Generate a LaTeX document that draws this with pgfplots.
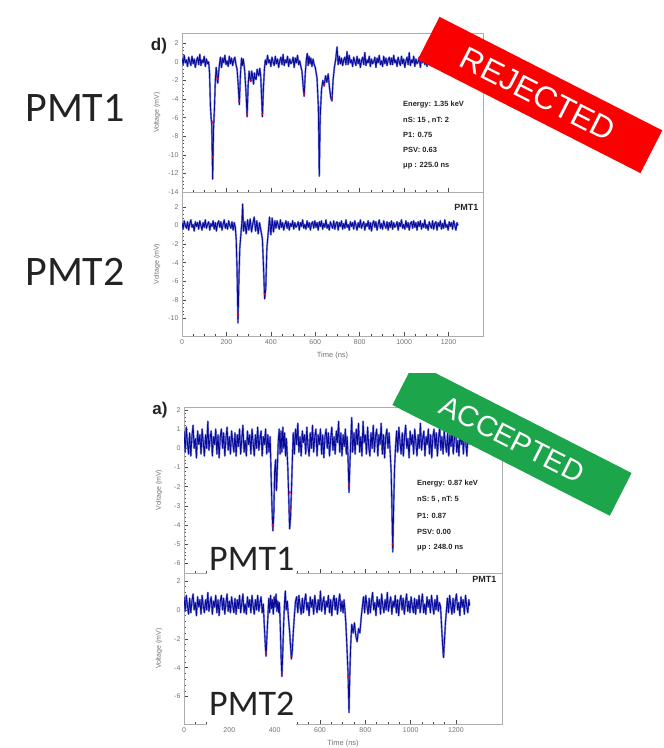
\documentclass[border=0pt]{standalone}
\usepackage{pgfplots}
\pgfplotsset{compat=1.18}
\usepackage{pgfplotstable}
\usepackage{fontspec}
\setmainfont{Liberation Sans}
\newfontfamily\calfont{Carlito}

\definecolor{trace}{RGB}{10,10,150}
\definecolor{haloblue}{RGB}{120,130,220}
\definecolor{rejred}{RGB}{250,0,0}
\definecolor{accgreen}{RGB}{28,165,75}
\definecolor{ticktext}{RGB}{115,115,115}
\definecolor{darktxt}{RGB}{35,35,35}

% rejected event, PMT1
\pgfplotstableread[row sep=\\]{x y\\
0 0.4\\ 5 -0.3\\ 10 0.7\\ 15 -0.1\\ 20 0.2\\ 25 -0.5\\ 30 0.5\\ 35 0.0\\ 40 -0.4\\ 45 0.6\\ 50 -0.2\\ 55 0.3\\ 60 -0.6\\ 65 0.1\\ 70 0.5\\ 75 -0.3\\ 80 0.8\\ 85 -0.4\\ 90 0.2\\ 95 -0.1\\ 100 0.6\\ 105 -0.5\\ 110 0.3\\ 115 -0.2\\ 120 0.0\\
124 -1.2\\ 128 -4.8\\ 131 -6.0\\ 134 -6.8\\ 138 -12.6\\ 142 -7.2\\ 146 -5.0\\ 150 -2.0\\ 154 -0.6\\ 158 -1.6\\ 161 -2.3\\ 165 -1.2\\ 169 -0.2\\
173 0.5\\ 178 -0.6\\ 183 0.4\\ 188 -0.1\\ 193 0.7\\ 198 -0.3\\ 203 0.1\\ 208 -0.5\\ 213 0.6\\ 218 -0.2\\ 223 0.4\\ 228 -0.4\\ 233 0.2\\ 238 0.5\\ 243 -0.3\\
248 -0.8\\ 253 -2.5\\ 258 -4.6\\ 263 -1.4\\ 268 0.4\\ 272 -0.4\\ 276 0.3\\ 282 -0.9\\ 288 -3.2\\ 293 -5.9\\ 298 -2.4\\ 302 -1.0\\ 306 -1.8\\ 310 -2.1\\ 314 -1.0\\ 318 -1.6\\ 322 -2.4\\ 326 -1.2\\ 330 -1.8\\ 334 -1.9\\ 338 -0.8\\ 342 -1.3\\ 346 -1.5\\ 350 -0.7\\ 354 -1.4\\ 357 -3.0\\ 362 -5.9\\ 367 -2.6\\ 371 -0.8\\ 375 0.2\\
380 -0.3\\ 385 0.7\\ 390 -0.1\\ 395 0.2\\ 400 -0.5\\ 405 0.5\\ 410 0.0\\ 415 -0.4\\ 420 0.6\\ 425 -0.2\\ 430 0.3\\ 435 -0.6\\ 440 0.1\\ 445 0.5\\ 450 -0.3\\ 455 0.8\\ 460 -0.4\\ 465 0.2\\ 470 -0.1\\ 475 0.6\\ 480 -0.5\\ 485 0.3\\ 490 -0.2\\ 495 0.0\\ 500 0.5\\ 505 -0.6\\ 510 0.4\\ 515 -0.1\\ 520 0.7\\ 525 -0.3\\ 530 0.1\\ 535 -0.5\\
540 -1.0\\ 546 -2.8\\ 550 -3.7\\ 555 -1.2\\ 560 0.3\\ 564 0.9\\ 568 -0.4\\ 572 0.6\\ 576 -0.2\\ 580 0.4\\ 585 -0.5\\ 590 0.3\\ 595 -0.3\\ 600 -0.6\\
608 -1.8\\ 614 -5.0\\ 618 -12.3\\ 622 -6.0\\ 628 -3.0\\ 634 -2.0\\ 640 -2.6\\ 646 -1.5\\ 652 -2.2\\ 658 -1.3\\ 664 -2.8\\ 670 -3.9\\ 675 -4.2\\ 680 -2.0\\ 686 -0.6\\ 692 0.3\\ 698 1.6\\ 703 -0.3\\
708 0.6\\ 713 -0.2\\ 718 0.4\\ 723 -0.4\\ 728 0.2\\ 733 0.5\\ 738 -0.3\\ 743 1.1\\ 748 -0.3\\ 753 0.7\\ 758 -0.1\\ 763 0.2\\ 768 -0.5\\ 773 0.5\\ 778 0.0\\ 783 -0.4\\ 788 0.6\\ 793 -0.2\\ 798 0.3\\ 803 -0.6\\ 808 0.1\\ 813 0.5\\ 818 -0.3\\ 823 1.0\\ 828 -0.4\\ 833 0.2\\ 838 -0.1\\ 843 0.6\\ 848 -0.5\\ 853 0.3\\ 858 -0.2\\ 863 0.0\\ 868 0.5\\ 873 -0.6\\ 878 0.4\\ 883 -0.1\\ 888 0.7\\ 893 -0.3\\ 898 0.1\\ 903 -0.5\\
908 0.6\\ 913 -0.2\\ 918 0.4\\ 923 -0.4\\ 928 0.2\\ 933 0.5\\ 938 -0.3\\ 943 0.4\\ 948 -0.3\\ 953 0.7\\ 958 -0.1\\ 963 0.2\\ 968 -0.5\\ 973 0.5\\ 978 0.0\\ 983 -0.4\\ 988 0.6\\ 993 -0.2\\ 998 0.3\\ 1003 -0.6\\ 1008 0.1\\ 1013 0.5\\ 1018 -0.3\\ 1023 1.0\\ 1028 -0.4\\ 1033 0.2\\ 1038 -0.1\\ 1043 0.6\\ 1048 -0.5\\ 1053 0.3\\ 1058 -0.2\\ 1063 0.0\\ 1068 0.5\\ 1073 -0.6\\ 1078 0.4\\ 1083 -0.1\\ 1088 0.7\\ 1093 -0.3\\ 1098 0.1\\ 1103 -0.5\\
1108 0.6\\ 1113 -0.2\\ 1118 0.4\\ 1123 -0.4\\ 1128 0.2\\ 1133 0.5\\ 1138 -0.3\\ 1143 0.4\\ 1148 -0.3\\ 1153 0.7\\ 1158 -0.1\\ 1163 0.2\\ 1168 -0.5\\ 1173 0.5\\ 1178 0.0\\ 1183 -0.4\\ 1188 0.6\\ 1193 -0.2\\ 1198 0.3\\ 1203 -0.6\\ 1208 0.1\\ 1213 0.5\\ 1218 -0.3\\ 1223 0.8\\ 1228 -0.4\\ 1233 0.2\\ 1238 -0.1\\ 1243 0.6\\ 1248 -0.5\\ 1252 0.1\\
}\rejA

% rejected event, PMT2
\pgfplotstableread[row sep=\\]{x y\\
0 0.3\\ 5 -0.4\\ 10 0.5\\ 15 0.0\\ 20 -0.3\\ 25 0.4\\ 30 -0.5\\ 35 0.2\\ 40 0.6\\ 45 -0.2\\ 50 0.1\\ 55 -0.6\\ 60 0.4\\ 65 -0.1\\ 70 0.3\\ 75 -0.4\\ 80 0.5\\ 85 0.0\\ 90 -0.5\\ 95 0.3\\ 100 -0.2\\ 105 0.6\\ 110 -0.3\\ 115 0.1\\ 120 0.4\\
125 -0.5\\ 130 0.2\\ 135 -0.1\\ 140 0.5\\ 145 -0.4\\ 150 0.3\\ 155 -0.6\\ 160 0.2\\ 165 0.5\\ 170 -0.2\\ 175 0.4\\ 180 -0.5\\ 185 0.1\\ 190 0.6\\ 195 -0.3\\ 200 0.2\\ 205 -0.4\\ 210 0.5\\ 215 0.0\\ 220 -0.3\\ 225 0.4\\ 230 -0.5\\ 235 0.3\\ 240 -0.2\\
244 -1.5\\ 248 -5.0\\ 252 -10.5\\ 256 -6.0\\ 260 -2.5\\ 265 -1.0\\ 270 0.5\\ 273 2.3\\ 277 -0.6\\ 283 0.4\\ 289 -0.9\\ 295 0.6\\ 301 -0.5\\ 307 0.7\\ 313 -0.7\\ 319 0.2\\ 325 0.9\\ 331 -0.6\\ 337 0.5\\ 343 -0.9\\ 349 0.3\\ 355 -0.5\\
362 -1.5\\ 367 -4.5\\ 372 -7.9\\ 377 -6.8\\ 382 -2.5\\ 388 -0.8\\ 394 0.9\\ 400 -1.0\\ 406 0.8\\ 412 -0.7\\ 418 0.5\\
423 -0.3\\ 428 0.5\\ 433 0.0\\ 438 -0.4\\ 443 0.6\\ 448 -0.2\\ 453 0.3\\ 458 -0.5\\ 463 0.1\\ 468 0.5\\ 473 -0.3\\ 478 0.4\\ 483 -0.5\\ 488 0.2\\ 493 -0.1\\ 498 0.5\\ 503 -0.4\\ 508 0.3\\ 513 -0.2\\ 518 0.0\\ 523 0.4\\ 528 -0.5\\ 533 0.3\\ 538 -0.1\\ 543 0.6\\ 548 -0.3\\ 553 0.1\\ 558 -0.4\\ 563 0.5\\ 568 -0.2\\ 573 0.3\\ 578 -0.5\\ 583 0.2\\ 588 0.4\\ 593 -0.3\\ 598 0.5\\
603 -0.2\\ 608 0.3\\ 613 -0.5\\ 618 0.4\\ 623 -0.1\\ 628 0.5\\ 633 -0.4\\ 638 0.2\\ 643 -0.2\\ 648 0.6\\ 653 -0.3\\ 658 0.1\\ 663 -0.5\\ 668 0.4\\ 673 0.0\\ 678 -0.3\\ 683 0.5\\ 688 -0.4\\ 693 0.2\\ 698 0.4\\ 703 -0.5\\ 708 0.3\\ 713 -0.1\\ 718 0.5\\ 723 -0.4\\ 728 0.2\\ 733 -0.3\\ 738 0.6\\ 743 -0.2\\ 748 0.1\\ 753 -0.5\\ 758 0.4\\ 763 -0.1\\ 768 0.3\\ 773 -0.4\\ 778 0.5\\ 783 0.0\\ 788 -0.5\\ 793 0.3\\ 798 -0.2\\
803 0.6\\ 808 -0.3\\ 813 0.1\\ 818 0.4\\ 823 -0.5\\ 828 0.2\\ 833 -0.1\\ 838 0.5\\ 843 -0.4\\ 848 0.3\\ 853 -0.6\\ 858 0.2\\ 863 0.5\\ 868 -0.2\\ 873 0.4\\ 878 -0.5\\ 883 0.1\\ 888 0.6\\ 893 -0.3\\ 898 0.2\\ 903 -0.4\\ 908 0.5\\ 913 0.0\\ 918 -0.3\\ 923 0.4\\ 928 -0.5\\ 933 0.3\\ 938 -0.2\\ 943 0.5\\ 948 -0.4\\ 953 0.3\\ 958 -0.2\\ 963 0.0\\ 968 0.4\\ 973 -0.5\\ 978 0.3\\ 983 -0.1\\ 988 0.6\\ 993 -0.3\\ 998 0.1\\
1003 -0.4\\ 1008 0.5\\ 1013 -0.2\\ 1018 0.3\\ 1023 -0.5\\ 1028 0.2\\ 1033 0.4\\ 1038 -0.3\\ 1043 0.5\\ 1048 -0.2\\ 1053 0.3\\ 1058 -0.5\\ 1063 0.4\\ 1068 -0.1\\ 1073 0.5\\ 1078 -0.4\\ 1083 0.2\\ 1088 -0.2\\ 1093 0.6\\ 1098 -0.3\\ 1103 0.1\\ 1108 -0.5\\ 1113 0.4\\ 1118 0.0\\ 1123 -0.3\\ 1128 0.5\\ 1133 -0.4\\ 1138 0.2\\ 1143 0.4\\ 1148 -0.5\\
1153 0.3\\ 1158 -0.1\\ 1163 0.5\\ 1168 -0.4\\ 1173 0.2\\ 1178 -0.3\\ 1183 0.6\\ 1188 -0.2\\ 1193 0.1\\ 1198 -0.5\\ 1203 0.4\\ 1208 -0.1\\ 1213 0.3\\ 1218 -0.4\\ 1223 0.5\\ 1228 0.0\\ 1233 -0.5\\ 1238 0.3\\ 1242 0.0\\
}\rejB

% accepted event, PMT1
\pgfplotstableread[row sep=\\]{x y\\
0 0.9\\ 5 -0.2\\ 10 1.1\\ 15 0.3\\ 20 -0.3\\ 25 0.8\\ 30 -0.4\\ 35 0.6\\ 40 1.2\\ 45 0.0\\ 50 0.5\\ 55 -0.5\\ 60 0.9\\ 65 0.2\\ 70 0.7\\ 75 -0.3\\ 80 1.0\\ 85 0.3\\ 90 -0.4\\ 95 0.7\\ 100 0.0\\ 105 1.4\\ 110 -0.1\\ 115 0.5\\ 120 0.9\\ 125 -0.4\\ 130 0.6\\ 135 0.2\\ 140 1.0\\ 145 -0.3\\ 150 0.7\\ 155 -0.5\\ 160 0.6\\ 165 1.0\\ 170 0.0\\ 175 0.8\\ 180 -0.4\\ 185 0.5\\ 190 1.1\\ 195 -0.1\\
200 0.6\\ 205 -0.3\\ 210 0.9\\ 215 0.3\\ 220 -0.2\\ 225 0.8\\ 230 -0.4\\ 235 0.7\\ 240 0.1\\ 245 1.0\\ 250 -0.3\\ 255 0.5\\ 260 1.2\\ 265 -0.2\\ 270 0.4\\ 275 -0.4\\ 280 0.9\\ 285 0.2\\ 290 0.7\\ 295 -0.3\\ 300 1.0\\ 305 0.3\\ 310 -0.4\\ 315 0.7\\ 320 0.0\\ 325 1.1\\ 330 -0.1\\ 335 0.5\\ 340 0.9\\ 345 -0.4\\ 350 0.6\\ 355 0.2\\ 360 1.0\\ 365 -0.3\\ 370 0.7\\ 375 -0.2\\ 380 0.6\\
384 -1.2\\ 388 -3.0\\ 392 -4.3\\ 396 -3.5\\ 400 -1.2\\ 404 -0.6\\ 408 -2.2\\ 412 -1.0\\ 416 0.4\\ 420 1.0\\ 424 -0.3\\ 428 0.9\\ 432 -0.2\\ 436 1.1\\ 440 0.0\\ 444 0.8\\ 448 -0.4\\ 452 0.5\\
458 -1.0\\ 462 -2.5\\ 466 -4.2\\ 470 -3.6\\ 474 -2.2\\ 478 -0.6\\
482 0.8\\ 487 -0.3\\ 492 1.0\\ 497 0.2\\ 502 1.3\\ 507 -0.2\\ 512 0.6\\ 517 -0.4\\ 522 0.9\\ 527 0.3\\ 532 0.7\\ 537 -0.3\\ 542 1.1\\ 547 0.1\\ 552 -0.4\\ 557 0.8\\ 562 0.0\\ 567 1.2\\ 572 -0.2\\ 577 0.6\\ 582 1.0\\ 587 -0.4\\ 592 0.7\\ 597 0.2\\
602 1.0\\ 607 -0.3\\ 612 0.7\\ 617 -0.5\\ 622 0.6\\ 627 1.0\\ 632 0.0\\ 637 0.8\\ 642 -0.4\\ 647 0.5\\ 652 1.1\\ 657 -0.1\\ 662 0.6\\ 667 -0.3\\ 672 0.9\\ 677 0.3\\ 682 1.4\\ 687 -0.2\\ 692 0.8\\ 697 -0.4\\ 702 0.7\\ 707 0.1\\ 712 1.0\\ 716 -0.3\\ 720 0.6\\
724 -0.6\\ 728 -2.3\\ 732 -0.8\\ 736 0.5\\ 740 1.6\\ 744 -0.2\\
750 0.8\\ 755 -0.3\\ 760 1.0\\ 765 0.2\\ 770 1.3\\ 775 -0.2\\ 780 0.6\\ 785 -0.4\\ 790 1.4\\ 795 0.3\\ 800 0.7\\ 805 -0.3\\ 810 1.1\\ 815 0.1\\ 820 -0.4\\ 825 0.8\\ 830 0.0\\ 835 1.2\\ 840 -0.2\\ 845 0.6\\ 850 1.0\\ 855 -0.4\\ 860 0.7\\ 865 0.2\\ 870 1.3\\ 875 -0.3\\ 880 0.7\\ 885 -0.5\\ 890 0.6\\ 895 1.0\\ 900 0.0\\ 905 0.8\\ 910 -0.3\\
914 -1.2\\ 918 -3.5\\ 921 -5.4\\ 925 -3.0\\ 929 -1.0\\ 934 0.2\\
938 0.9\\ 943 -0.2\\ 948 1.1\\ 953 0.3\\ 958 -0.3\\ 963 0.8\\ 968 -0.4\\ 973 0.6\\ 978 1.2\\ 983 0.0\\ 988 0.5\\ 993 -0.5\\ 998 0.9\\ 1003 0.2\\ 1008 0.7\\ 1013 -0.3\\ 1018 1.0\\ 1023 0.3\\ 1028 -0.4\\ 1033 0.7\\ 1038 0.0\\ 1043 1.3\\ 1048 -0.1\\ 1053 0.5\\ 1058 0.9\\ 1063 -0.4\\ 1068 0.6\\ 1073 0.2\\ 1078 1.0\\ 1083 -0.3\\ 1088 0.7\\ 1093 -0.5\\ 1098 0.6\\
1103 1.0\\ 1108 0.0\\ 1113 0.8\\ 1118 -0.4\\ 1123 0.5\\ 1128 1.1\\ 1133 -0.1\\ 1138 0.6\\ 1143 -0.3\\ 1148 0.9\\ 1153 0.3\\ 1158 -0.2\\ 1163 0.8\\ 1168 -0.4\\ 1173 0.7\\ 1178 0.1\\ 1183 1.0\\ 1188 -0.3\\ 1193 0.5\\ 1198 1.2\\ 1203 -0.2\\ 1208 0.4\\ 1213 -0.4\\ 1218 0.9\\ 1223 0.2\\ 1228 0.7\\ 1233 -0.3\\ 1238 1.0\\ 1243 0.3\\ 1248 -0.4\\ 1253 0.7\\ 1258 0.2\\
}\accA

% accepted event, PMT2
\pgfplotstableread[row sep=\\]{x y\\
0 0.9\\ 5 -0.1\\ 10 1.0\\ 15 0.3\\ 20 -0.3\\ 25 0.8\\ 30 -0.2\\ 35 0.6\\ 40 1.1\\ 45 0.0\\ 50 0.5\\ 55 -0.4\\ 60 0.9\\ 65 0.2\\ 70 0.7\\ 75 -0.3\\ 80 1.0\\ 85 0.3\\ 90 -0.2\\ 95 0.7\\ 100 0.0\\ 105 1.2\\ 110 -0.1\\ 115 0.5\\ 120 0.9\\ 125 -0.3\\ 130 0.6\\ 135 0.2\\ 140 1.0\\ 145 -0.2\\ 150 0.7\\ 155 -0.4\\ 160 0.6\\ 165 1.0\\ 170 0.0\\ 175 0.8\\ 180 -0.3\\ 185 0.5\\ 190 1.1\\ 195 -0.1\\
200 0.6\\ 205 -0.2\\ 210 0.9\\ 215 0.3\\ 220 -0.2\\ 225 0.8\\ 230 -0.3\\ 235 0.7\\ 240 0.1\\ 245 1.0\\ 250 -0.2\\ 255 0.5\\ 260 1.1\\ 265 -0.2\\ 270 0.4\\ 275 -0.3\\ 280 0.9\\ 285 0.2\\ 290 0.7\\ 295 -0.2\\ 300 1.0\\ 305 0.3\\ 310 -0.3\\ 315 0.7\\ 320 0.0\\ 325 1.0\\ 330 -0.1\\ 335 0.5\\ 340 0.9\\ 345 -0.2\\ 350 0.4\\
354 -1.0\\ 359 -2.5\\ 362 -3.2\\ 366 -1.8\\ 370 -0.5\\ 374 0.8\\ 378 -0.2\\ 382 1.0\\ 386 0.1\\ 390 0.7\\ 394 -0.3\\ 398 0.9\\ 402 0.2\\ 406 1.1\\ 410 -0.1\\ 414 0.6\\ 418 -0.2\\ 421 0.5\\
425 -1.2\\ 429 -3.5\\ 432 -4.6\\ 436 -2.8\\ 440 -0.8\\ 444 0.6\\ 447 1.3\\ 451 0.0\\ 456 0.6\\ 461 -0.6\\ 466 -1.5\\ 470 -2.5\\ 474 -3.4\\ 478 -2.8\\ 482 -1.6\\ 487 -0.4\\ 492 0.6\\
497 0.9\\ 502 -0.2\\ 507 1.0\\ 512 0.3\\ 517 -0.3\\ 522 0.8\\ 527 -0.2\\ 532 0.6\\ 537 1.1\\ 542 0.0\\ 547 0.5\\ 552 -0.4\\ 557 0.9\\ 562 0.2\\ 567 0.7\\ 572 -0.3\\ 577 1.0\\ 582 0.3\\ 587 -0.2\\ 592 0.7\\ 597 0.0\\ 602 1.3\\ 607 -0.1\\ 612 0.5\\ 617 0.9\\ 622 -0.3\\ 627 0.6\\ 632 0.2\\ 637 1.0\\ 642 -0.2\\ 647 0.7\\ 652 -0.4\\ 657 0.6\\ 662 1.0\\ 667 0.0\\ 672 0.8\\ 677 -0.3\\ 682 0.5\\ 687 1.1\\ 692 -0.1\\ 697 0.6\\ 702 -0.2\\ 706 0.7\\ 710 0.0\\
714 -0.9\\ 719 -2.6\\ 724 -4.5\\ 728 -7.1\\ 731 -4.8\\ 735 -2.6\\ 740 -1.0\\ 746 -1.6\\ 752 -0.9\\ 758 -1.8\\ 764 -2.2\\ 770 -1.3\\ 776 -1.6\\ 782 -0.5\\ 788 0.4\\
792 0.9\\ 797 -0.2\\ 802 1.0\\ 807 0.3\\ 812 -0.3\\ 817 0.8\\ 822 -0.2\\ 827 0.6\\ 832 1.2\\ 837 0.0\\ 842 0.5\\ 847 -0.4\\ 852 0.9\\ 857 0.2\\ 862 0.7\\ 867 -0.3\\ 872 1.1\\ 877 0.3\\ 882 -0.2\\ 887 0.7\\ 892 0.0\\ 897 1.2\\ 902 -0.1\\ 907 0.5\\ 912 0.9\\ 917 -0.3\\ 922 0.6\\ 927 0.2\\ 932 1.0\\ 937 -0.2\\ 942 0.7\\ 947 -0.4\\ 952 0.6\\ 957 1.0\\ 962 0.0\\ 967 0.8\\ 972 -0.3\\ 977 0.5\\ 982 1.1\\ 987 -0.1\\ 992 0.6\\ 997 -0.2\\
1002 0.9\\ 1007 0.3\\ 1012 -0.2\\ 1017 0.8\\ 1022 -0.3\\ 1027 0.7\\ 1032 0.1\\ 1037 1.0\\ 1042 -0.2\\ 1047 0.5\\ 1052 1.1\\ 1057 -0.2\\ 1062 0.4\\ 1067 -0.3\\ 1072 0.9\\ 1077 0.2\\ 1082 0.7\\ 1087 -0.2\\ 1092 1.0\\ 1097 0.3\\ 1102 -0.3\\ 1107 0.7\\ 1112 0.0\\ 1117 1.0\\ 1122 -0.1\\ 1127 0.5\\ 1132 0.2\\
1136 -1.0\\ 1141 -2.4\\ 1145 -3.3\\ 1149 -2.2\\ 1153 -1.0\\ 1158 0.0\\
1162 0.8\\ 1167 -0.2\\ 1172 1.0\\ 1177 0.3\\ 1182 -0.3\\ 1187 0.8\\ 1192 -0.2\\ 1197 0.6\\ 1202 1.1\\ 1207 0.0\\ 1212 0.5\\ 1217 -0.4\\ 1222 0.9\\ 1227 0.2\\ 1232 0.7\\ 1237 -0.3\\ 1242 1.0\\ 1247 0.3\\ 1252 -0.2\\ 1257 0.7\\ 1260 0.3\\
}\accB

\pgfplotsset{
  wave/.style={
    scale only axis, anchor=north west, xmin=0,
    axis line style={gray!65, line width=0.6pt},
    tick align=inside, xtick pos=bottom, ytick pos=left,
    major tick length=4pt, minor tick length=2pt,
    every tick/.style={gray!60!black, line width=0.5pt},
    xtick={0,200,...,1200}, minor x tick num=3, minor y tick num=4,
    tick label style={font=\fontsize{7}{8}\selectfont, text=ticktext},
    /pgf/number format/assume math mode=true,
    /pgf/number format/1000 sep={},
    every axis y label/.style={at={(axis description cs:0,0.5)}, rotate=90, anchor=center, yshift=25pt,
      font=\fontsize{7}{8}\selectfont, text=ticktext},
    every axis x label/.style={at={(axis description cs:0.5,0)}, anchor=north, yshift=-13pt,
      font=\fontsize{7.5}{8}\selectfont, text=ticktext},
    ylabel={Voltage (mV)},
  },
  halo/.style={haloblue, line width=1.9pt, line join=round},
  core/.style={trace, line width=0.85pt, line join=round},
  hits/.style={only marks, mark=*, mark size=0.9pt, color=rejred},
}

\begin{document}
\begin{tikzpicture}
\useasboundingbox (0,0) rectangle (664pt,-748pt);

% --- rejected event ---
\begin{axis}[wave, at={(182pt,-33pt)}, width=301pt, height=159pt,
  xmax=1355, ymin=-14, ymax=3.1, ytick={-14,-12,...,2}, xticklabels={}]
  \addplot[halo] table {\rejA};
  \addplot[core] table {\rejA};
  \addplot[hits] coordinates {(135,-6.5) (138,-10.2) (160,-1.8) (258,-4.2) (293,-5.6) (310,-2.0) (362,-5.6) (550,-3.4) (640,-2.4) (675,-4.0)};
\end{axis}
\begin{axis}[wave, at={(182pt,-192pt)}, width=301pt, height=144pt,
  xmax=1355, ymin=-11.9, ymax=3.6, ytick={-10,-8,...,2}, xlabel={Time (ns)}]
  \addplot[halo] table {\rejB};
  \addplot[core] table {\rejB};
  \addplot[hits] coordinates {(252,-9.6) (372,-7.4)};
\end{axis}

% --- accepted event ---
\begin{axis}[wave, at={(184pt,-407pt)}, width=318pt, height=166pt,
  xmax=1403, ymin=-6.5, ymax=2.15, ytick={-6,-5,...,2}, xticklabels={}]
  \addplot[halo] table {\accA};
  \addplot[core] table {\accA};
  \addplot[hits] coordinates {(392,-4.0) (466,-2.3) (468,-3.2) (728,-1.9) (921,-5.0)};
\end{axis}
\begin{axis}[wave, at={(184pt,-573pt)}, width=318pt, height=151pt,
  xmax=1403, ymin=-7.9, ymax=2.55, ytick={-6,-4,...,2}, xlabel={Time (ns)}]
  \addplot[halo] table {\accB};
  \addplot[core] table {\accB};
  \addplot[hits] coordinates {(362,-3.0) (432,-4.4) (474,-3.2) (728,-4.6) (1145,-3.0)};
\end{axis}

% panel letters and small labels
\node[font=\fontsize{17}{17}\selectfont\bfseries, text=darktxt] at (159pt,-46pt) {d)};
\node[font=\fontsize{17}{17}\selectfont\bfseries, text=darktxt] at (160pt,-410pt) {a)};
\node[anchor=base east, font=\fontsize{9}{9}\selectfont\bfseries, text=darktxt] at (482pt,-210pt) {PMT1};
\node[anchor=base east, font=\fontsize{9}{9}\selectfont\bfseries, text=darktxt] at (500pt,-582pt) {PMT1};

% event info
\begin{scope}[every node/.style={anchor=base west, font=\fontsize{7.5}{8}\selectfont\bfseries, text=darktxt, inner sep=0pt}]
\node at (403pt,-106pt) {Energy: 1.35 keV};
\node at (403pt,-122pt) {nS: 15 , nT: 2};
\node at (403pt,-137pt) {P1: 0.75};
\node at (403pt,-152pt) {PSV: 0.63};
\node at (403pt,-167pt) {μp : 225.0 ns};
\node at (417pt,-485pt) {Energy: 0.87 keV};
\node at (417pt,-501pt) {nS: 5 , nT: 5};
\node at (417pt,-518pt) {P1: 0.87};
\node at (417pt,-534pt) {PSV: 0.00};
\node at (417pt,-549pt) {μp : 248.0 ns};
\end{scope}

% large PMT captions
\node[font=\calfont\fontsize{42}{42}\selectfont, text=darktxt] at (75pt,-108pt) {PMT1};
\node[font=\calfont\fontsize{42}{42}\selectfont, text=darktxt] at (75pt,-272pt) {PMT2};
\node[anchor=base west, font=\calfont\fontsize{36}{36}\selectfont, text=darktxt, fill=white,
  inner xsep=2pt, inner ysep=0pt, text depth=6pt] at (207pt,-570pt) {PMT1};
\node[anchor=base west, font=\calfont\fontsize{36}{36}\selectfont, text=darktxt, fill=white,
  inner xsep=2pt, inner ysep=0pt, text depth=11pt] at (207pt,-715pt) {PMT2};

% banners
\begin{scope}[shift={(540pt,-95pt)}, rotate=-27]
  \fill[rejred] (-125pt,-24pt) rectangle (125pt,24pt);
  \node[transform shape, text=white, font=\fontsize{32}{32}\selectfont] at (-2pt,0) {REJECTED};
\end{scope}
\begin{scope}
  \clip (0,-373pt) rectangle (664pt,-748pt);
  \begin{scope}[shift={(512pt,-439pt)}, rotate=-27]
    \fill[accgreen] (-122pt,-24pt) rectangle (122pt,24pt);
    \node[transform shape, text=white, font=\fontsize{29}{29}\selectfont] at (0,0) {ACCEPTED};
  \end{scope}
\end{scope}
\end{tikzpicture}
\end{document}
